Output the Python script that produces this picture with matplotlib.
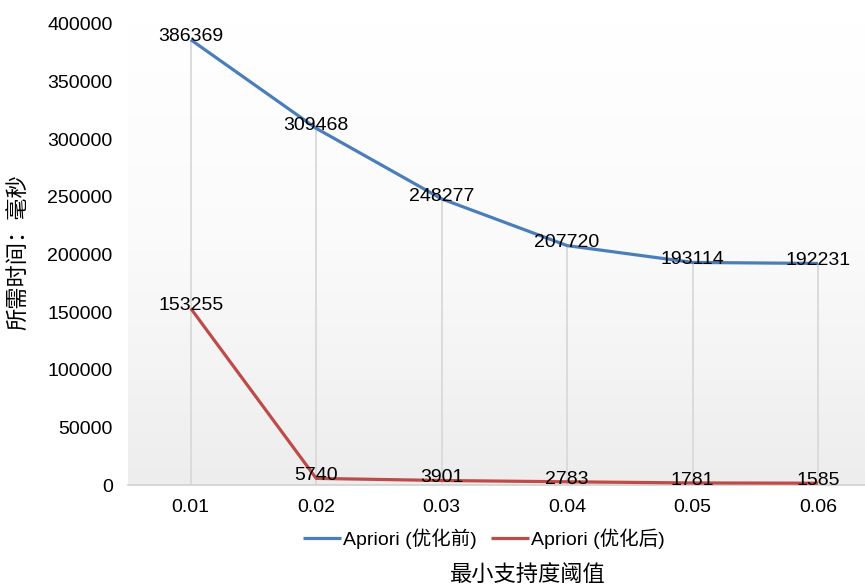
import numpy as np
import matplotlib
matplotlib.use("Agg")
import matplotlib.pyplot as plt
from matplotlib.colors import LinearSegmentedColormap

plt.rcParams['font.family'] = ['Liberation Sans', 'Noto Sans CJK SC', 'DejaVu Sans']

# Data
thresholds = ["0.01", "0.02", "0.03", "0.04", "0.05", "0.06"]
before_opt = [386369, 309468, 248277, 207720, 193114, 192231]
after_opt = [153255, 5740, 3901, 2783, 1781, 1585]
series_names = ["Apriori (优化前)", "Apriori (优化后)"]
y_ticks = [0, 50000, 100000, 150000, 200000, 250000, 300000, 350000, 400000]

W, H = 865, 585
fig = plt.figure(figsize=(W / 100, H / 100), dpi=100)
ax = fig.add_axes([128 / W, 1 - 485 / H, 1 - 128 / W, (485 - 24) / H])

x = np.arange(len(thresholds))

# Plot-area gradient fill (white at top, light grey at bottom)
grad = np.linspace(0, 1, 256).reshape(-1, 1)
cmap = LinearSegmentedColormap.from_list("bg", ["#ffffff", "#fafafa", "#ededed"])
ax.imshow(grad, cmap=cmap, aspect="auto", extent=[0, 1, 0, 1],
          transform=ax.transAxes, zorder=0, origin="upper", vmin=0, vmax=1)

# Drop lines from each category's highest point down to the axis
tops = [max(a, b) for a, b in zip(before_opt, after_opt)]
ax.vlines(x, 0, tops, colors="#d9d9d9", linewidth=1.3, zorder=1)

colors = ["#4a7ebb", "#be4b48"]
for vals, name, c in zip([before_opt, after_opt], series_names, colors):
    ax.plot(x, vals, color=c, linewidth=2.3, label=name, zorder=3,
            solid_capstyle="butt")
    for xi, v in zip(x, vals):
        ax.annotate(f"{v}", (xi, v), xytext=(0, 2), textcoords="offset points",
                    ha="center", va="center", fontsize=14, color="#000000",
                    zorder=4)

ax.set_xlim(-0.5, (W - 190) / 125.6)
ax.set_ylim(0, 400000)
ax.set_xticks(x)
ax.set_xticklabels(thresholds, fontsize=14)
ax.set_yticks(y_ticks)
ax.set_yticklabels([str(t) for t in y_ticks], fontsize=14)
ax.tick_params(axis="both", length=0)
ax.tick_params(axis="x", pad=10)
ax.tick_params(axis="y", pad=11)

for side in ["left", "right", "top"]:
    ax.spines[side].set_visible(False)
ax.spines["bottom"].set_color("#d0d0d0")
ax.spines["bottom"].set_linewidth(1.2)
ax.spines["bottom"].set_zorder(2)

fig.legend(loc="center", bbox_to_anchor=(484 / W, 1 - 539 / H), ncol=2,
           frameon=False, fontsize=14, handlelength=1.95, handletextpad=0.1,
           columnspacing=0.75)

fig.text(528 / W, 1 - 575 / H, "最小支持度阈值", ha="center", va="center",
         fontsize=16)
fig.text(20 / W, 1 - 252 / H, "所需时间：毫秒", ha="center", va="center",
         rotation=90, fontsize=16)

fig.savefig("out.png", dpi=100)
